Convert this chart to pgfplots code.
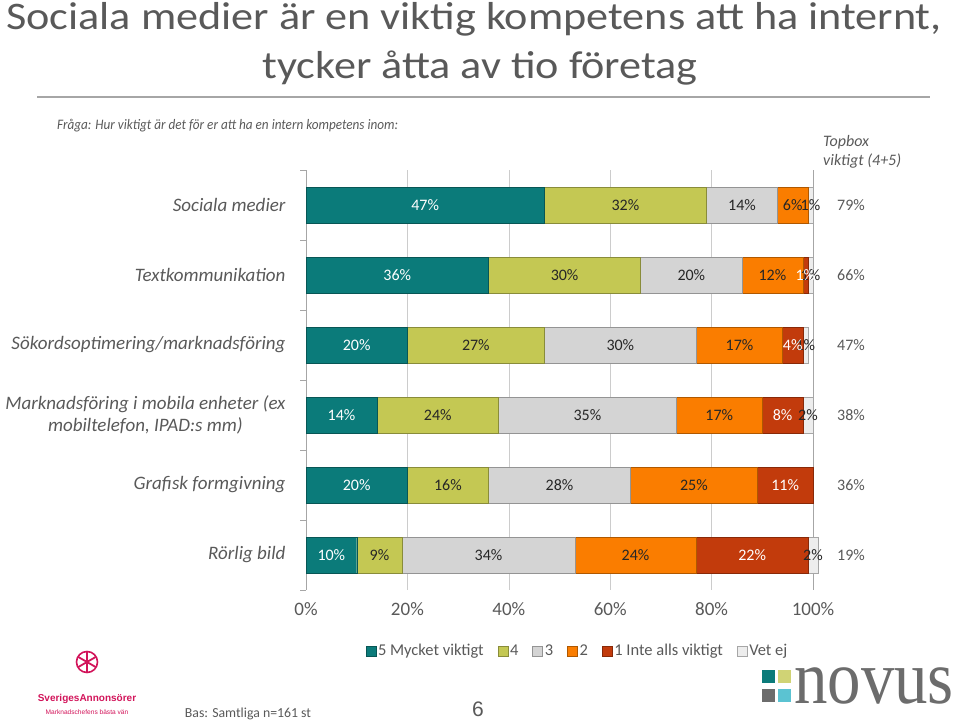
\documentclass[border=0pt]{standalone}
\usepackage{pgfplots}
\pgfplotsset{compat=1.18}
\usepackage{pgfplotstable}
\usepackage{fontspec}
\setmainfont{Carlito}
\newfontfamily\serifnovus{Liberation Serif}
\newfontfamily\sanslogo{Liberation Sans}

\definecolor{txt}{HTML}{595959}
\definecolor{c5}{HTML}{0B7B7A}
\definecolor{c4}{HTML}{C4C853}
\definecolor{c3}{HTML}{D4D4D4}
\definecolor{c2}{HTML}{FA7D00}
\definecolor{c1}{HTML}{C23B0C}
\definecolor{c0}{HTML}{EDEDED}
\definecolor{pinklogo}{HTML}{D2145A}
\definecolor{novusblue}{HTML}{5BC3D2}

% idx: 0 = top row
\pgfplotstableread{
idx  a   b   c   d   e   f   top
0    47  32  14  6   0   1   79
1    36  30  20  12  1   1   66
2    20  27  30  17  4   1   47
3    14  24  35  17  8   2   38
4    20  16  28  25  11  0   36
5    10  9   34  24  22  2   19
}\data

\begin{document}
\begin{tikzpicture}[x=1bp,y=-1bp]
\useasboundingbox (0,0) rectangle (960,723);

% title
\node[text=txt, font=\fontsize{39bp}{44bp}\selectfont, anchor=base, inner sep=0pt, xscale=1.133]
  at (474,30) {Sociala medier är en viktig kompetens att ha internt,};
\node[text=txt, font=\fontsize{39bp}{44bp}\selectfont, anchor=base, inner sep=0pt, xscale=1.133]
  at (480,79) {tycker åtta av tio företag};
\draw[gray!70, line width=2bp] (37,97) -- (930,97);

\node[text=txt, font=\fontsize{14.5bp}{16bp}\selectfont\itshape, anchor=base west, inner sep=0pt, xscale=0.91]
  at (57,130) {Fråga: Hur viktigt är det för er att ha en intern kompetens inom:};
\node[text=txt, font=\fontsize{16bp}{19bp}\selectfont\itshape, anchor=base west, align=left, inner sep=0pt]
  at (823,166) {Topbox\\viktigt (4+5)};

\begin{axis}[
  at={(306bp,-590bp)}, anchor=south west,
  scale only axis, width=507bp, height=420bp,
  xbar stacked, bar width=36bp,
  xmin=0, xmax=100, ymin=-0.5, ymax=5.5, y dir=reverse,
  xtick={0,20,...,100},
  xticklabel={\pgfmathprintnumber{\tick}\%},
  ytick={0,...,5},
  yticklabels={Sociala medier,Textkommunikation,Sökordsoptimering/marknadsföring,{Marknadsföring i mobila enheter (ex\\mobiltelefon, IPAD:s mm)},Grafisk formgivning,Rörlig bild},
  minor ytick={-0.5,0.5,...,5.5},
  ytick pos=left,
  tick align=outside,
  minor tick length=6bp,
  major tick length=0pt,
  minor tick style={draw=gray!70},
  xmajorgrids, grid style={gray!40, line width=0.6pt},
  separate axis lines,
  x axis line style={draw=none},
  y axis line style={draw=gray!70},
  /pgf/number format/assume math mode=true,
  xticklabel style={text=txt, font=\fontsize{19bp}{22bp}\selectfont, yshift=-9bp},
  yticklabel style={text=txt, font=\fontsize{19bp}{21.5bp}\selectfont\itshape, align=center, xshift=-17bp},
  point meta=rawx,
  nodes near coords={\pgfmathfloatifflags{\pgfplotspointmeta}{0}{}{\pgfmathprintnumber{\pgfplotspointmeta}\%}},
  every node near coord/.append style={font=\fontsize{16bp}{19bp}\selectfont, text=black!85},
  legend columns=-1,
  legend style={at={(0.5355,-0.145)}, anchor=center, draw=none, fill=none,
    font=\fontsize{16.5bp}{19bp}\selectfont, text=txt,
    /tikz/every even column/.append style={column sep=12bp}},
  legend image code/.code={\draw[#1] (-3bp,-5bp) rectangle (7bp,5bp);},
  clip=false,
]
\addplot[fill=c5, draw=c5!70!black, every node near coord/.append style={text=white}] table[x=a, y=idx]{\data};
\addplot[fill=c4, draw=c4!70!black] table[x=b, y=idx]{\data};
\addplot[fill=c3, draw=c3!70!black] table[x=c, y=idx]{\data};
\addplot[fill=c2, draw=c2!70!black] table[x=d, y=idx]{\data};
\addplot[fill=c1, draw=c1!70!black, every node near coord/.append style={text=white}] table[x=e, y=idx]{\data};
\addplot[fill=c0, draw=c0!70!black] table[x=f, y=idx]{\data};
\legend{5 Mycket viktigt,4,3,2,1 Inte alls viktigt,Vet ej}
\end{axis}

% topbox column via a twin axis
\begin{axis}[
  at={(306bp,-590bp)}, anchor=south west,
  scale only axis, width=507bp, height=420bp,
  xmin=0, xmax=100, ymin=-0.5, ymax=5.5, y dir=reverse,
  hide x axis, hide y axis,
  clip=false,
]
\addplot[only marks, mark=none, point meta=explicit symbolic,
  nodes near coords={\pgfplotspointmeta\%},
  every node near coord/.append style={anchor=center, text=txt, font=\fontsize{16bp}{19bp}\selectfont}]
  table[x expr=107.5, y=idx, meta=top]{\data};
\end{axis}

% footer
\node[text=txt, font=\fontsize{13.8bp}{16bp}\selectfont] at (248,714) {Bas: Samtliga n=161 st};
\node[text=txt, font=\sanslogo\fontsize{21bp}{24bp}\selectfont, anchor=base, inner sep=0pt] at (478,716) {6};

% SverigesAnnonsörer logo
\foreach \a in {30,90,...,330}
  \draw[pinklogo, line width=1.8bp] (87,662) -- ++(\a:10);
\draw[pinklogo, line width=1.6bp] (87,662) circle (10.5);
\node[text=pinklogo, font=\sanslogo\bfseries\fontsize{10bp}{12bp}\selectfont, inner sep=0pt] at (87,699) {SverigesAnnonsörer};
\node[text=pinklogo, font=\sanslogo\fontsize{6.6bp}{8bp}\selectfont, inner sep=0pt] at (87,712) {Marknadschefens bästa vän};

% novus logo
\fill[c5] (762,670) rectangle (775,683);
\fill[c4!80!white] (778,670) rectangle (791,683);
\fill[gray!85!black] (762,689) rectangle (775,702);
\fill[novusblue] (778,689) rectangle (791,702);
\node[text=gray!85!black, font=\serifnovus\fontsize{76bp}{76bp}\selectfont, anchor=base west, inner sep=0pt, xscale=0.88] at (794,703) {novus};
\end{tikzpicture}
\end{document}
